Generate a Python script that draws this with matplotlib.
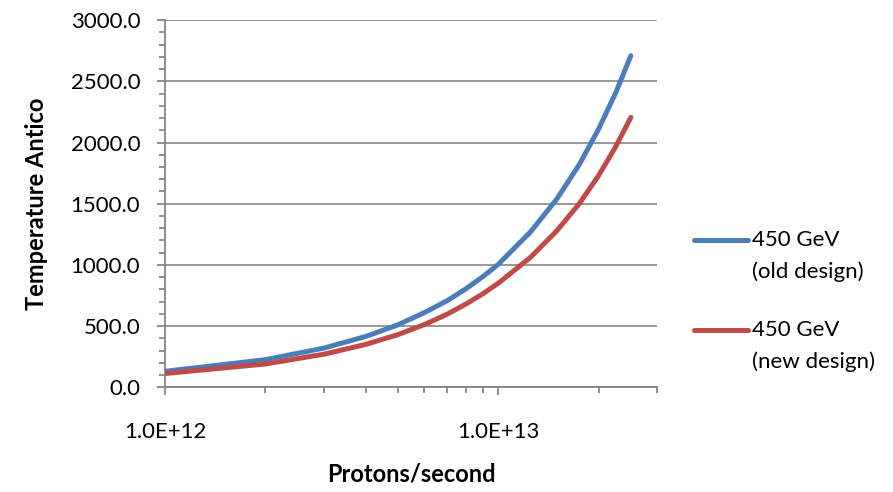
import matplotlib
matplotlib.use("Agg")
import numpy as np
import matplotlib.pyplot as plt
from matplotlib.lines import Line2D
from matplotlib.ticker import FixedLocator, FuncFormatter, MultipleLocator, NullFormatter

plt.rcParams['font.family'] = ['Lato', 'DejaVu Sans']

# protons per second
protons = [1e12, 2e12, 3e12, 4e12, 5e12, 6e12, 7e12, 8e12, 9e12, 1e13,
           1.25e13, 1.5e13, 1.75e13, 2e13, 2.25e13, 2.5e13]
# temperature, old and new design
temp_old = [130, 225, 320, 415, 510, 610, 705, 805, 905, 1005,
            1270, 1540, 1820, 2110, 2405, 2710]
temp_new = [112, 190, 270, 350, 430, 512, 595, 680, 765, 850,
            1062, 1280, 1500, 1730, 1965, 2206]
labels = [('450 GeV', '(old design)'), ('450 GeV', '(new design)')]
colors = ['#4A7EBB', '#BE4B48']

fig = plt.figure(figsize=(8.93, 4.92), dpi=100)
ax = fig.add_axes([0.185, 0.213, 0.551, 0.746])

ax.plot(protons, temp_old, color=colors[0], lw=3.6, solid_capstyle='round', zorder=3)
ax.plot(protons, temp_new, color=colors[1], lw=3.6, solid_capstyle='round', zorder=3)

gray = '#868686'
ax.set_xscale('log')
ax.set_xlim(1e12, 3e13)
ax.set_ylim(0, 3000)

ax.xaxis.set_major_locator(FixedLocator([1e12, 1e13]))
ax.xaxis.set_major_formatter(FuncFormatter(lambda v, p: f"{v:.1E}"))
minor_x = [2e12, 3e12, 4e12, 5e12, 6e12, 7e12, 8e12, 9e12, 2e13, 3e13]
ax.xaxis.set_minor_locator(FixedLocator(minor_x))
ax.xaxis.set_minor_formatter(NullFormatter())

ax.yaxis.set_major_locator(MultipleLocator(500))
ax.yaxis.set_minor_locator(MultipleLocator(100))
ax.yaxis.set_major_formatter(FuncFormatter(lambda v, p: f"{v:.1f}"))

ax.grid(axis='y', which='major', color=gray, lw=1.2)
ax.set_axisbelow(True)
for s in ['top', 'right']:
    ax.spines[s].set_visible(False)
for s in ['left', 'bottom']:
    ax.spines[s].set_color(gray)
    ax.spines[s].set_linewidth(1.3)

ax.tick_params(axis='both', which='major', length=6, width=1.3, color=gray,
               labelsize=16, labelcolor='black')
ax.tick_params(axis='both', which='minor', length=4.5, width=1.3, color=gray)
ax.tick_params(axis='y', which='major', pad=12)
ax.tick_params(axis='x', which='major', pad=19)

ax.set_xlabel('Protons/second', fontsize=17, fontweight='bold', labelpad=15)
ax.set_ylabel('Temperature Antico', fontsize=17, fontweight='bold', labelpad=16)

# legend drawn by hand so the key line sits on the first text line
for i, (l1, l2) in enumerate(labels):
    yy = 0.512 - i * 0.183
    fig.add_artist(Line2D([0.777, 0.838], [yy, yy], transform=fig.transFigure,
                          color=colors[i], lw=3.6, solid_capstyle='round'))
    fig.text(0.842, yy, l1, fontsize=16, va='center', ha='left')
    fig.text(0.842, yy - 0.065, l2, fontsize=16, va='center', ha='left')

fig.savefig('out.png', dpi=100)
